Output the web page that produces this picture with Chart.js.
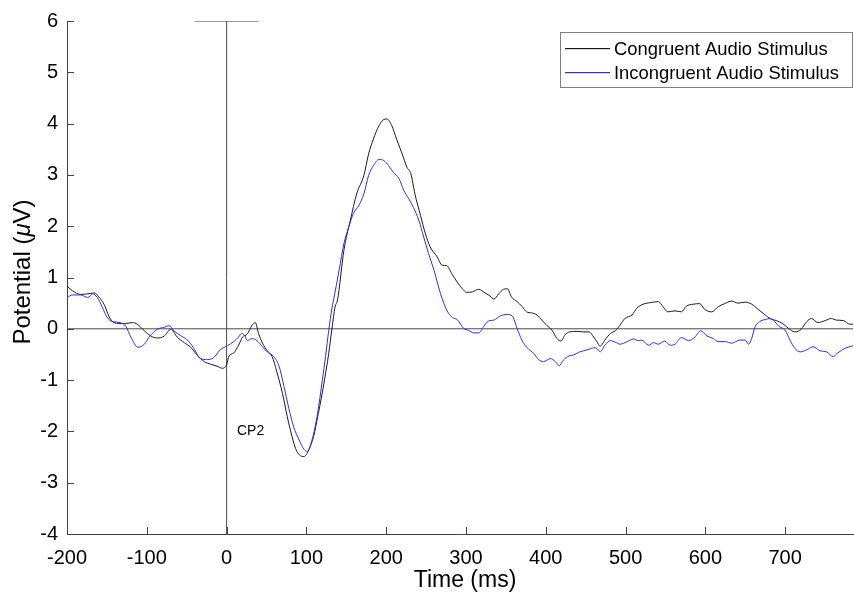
<!DOCTYPE html>
<html>
<head>
<meta charset="utf-8">
<script src="https://cdn.jsdelivr.net/npm/chart.js@4/dist/chart.umd.min.js"></script>
<style>
  html, body { margin: 0; padding: 0; background: #fff; }
  #wrap { width: 854px; height: 600px; }
</style>
</head>
<body>
<div id="wrap"><canvas id="c" width="854" height="600"></canvas></div>
<script>
// ---- Data (time in ms, potential in µV) ----
const congruentTime = [-200,-193,-183,-170,-166,-160,-153,-147,-141,-129,-118,-112,-103,-95,-87,-78,-70,-62,-53,-45,-37,-28,-20,-12,-5,0,3,9,15,20,26,32,36,40,45,51,57,63,70,76,82,88,97,103,109,115,122,128,132,136,139,147,155,163,172,178,184,190,197,201,207,213,220,226,231,236,243,249,255,264,270,276,282,289,295,301,308,316,324,330,335,341,347,352,357,364,370,376,382,389,395,401,408,414,419,424,430,439,447,454,460,464,468,474,481,487,493,499,508,514,522,531,541,547,553,562,570,576,585,593,599,608,616,624,633,641,650,658,666,675,681,689,697,704,712,720,727,733,741,750,758,764,773,781,785];
const congruentPotential = [0.83,0.74,0.67,0.69,0.70,0.62,0.46,0.23,0.12,0.10,0.12,0.09,-0.04,-0.14,-0.18,-0.14,-0.01,-0.16,-0.27,-0.36,-0.51,-0.64,-0.69,-0.73,-0.77,-0.70,-0.53,-0.47,-0.32,-0.16,-0.10,0.07,0.12,-0.09,-0.28,-0.43,-0.54,-0.84,-1.26,-1.71,-2.10,-2.39,-2.49,-2.36,-2.10,-1.65,-1.06,-0.48,0.00,0.43,0.56,1.53,2.11,2.63,2.99,3.41,3.70,3.93,4.08,4.09,3.96,3.70,3.41,3.15,3.02,2.63,2.21,1.86,1.60,1.40,1.24,1.23,1.08,0.91,0.79,0.71,0.72,0.77,0.70,0.64,0.58,0.68,0.77,0.78,0.62,0.53,0.44,0.33,0.31,0.27,0.17,0.07,-0.03,-0.19,-0.24,-0.12,-0.06,-0.05,-0.06,-0.06,-0.16,-0.25,-0.34,-0.22,-0.09,-0.04,0.07,0.20,0.27,0.40,0.48,0.51,0.53,0.43,0.33,0.35,0.33,0.44,0.48,0.49,0.38,0.33,0.43,0.49,0.54,0.50,0.52,0.48,0.38,0.27,0.20,0.16,0.10,0.01,-0.06,-0.01,0.14,0.20,0.12,0.16,0.20,0.17,0.16,0.09,0.09];

const incongruentTime = [-200,-193,-183,-174,-168,-162,-156,-150,-143,-133,-126,-120,-111,-103,-97,-87,-78,-72,-66,-58,-49,-41,-33,-24,-16,-8,1,9,15,19,23,26,32,38,45,51,59,66,72,78,84,91,97,101,107,114,120,124,128,132,134,141,147,153,159,166,172,178,184,191,197,203,209,216,222,228,234,241,247,253,260,268,276,283,289,297,303,310,316,322,328,335,343,351,358,364,370,376,385,391,397,406,412,417,422,429,435,441,447,454,460,464,468,474,481,487,493,502,510,516,520,529,535,541,549,556,562,570,579,587,594,602,610,616,625,633,643,650,654,658,662,668,675,681,685,692,700,706,712,719,727,735,744,752,760,766,775,783,785];
const incongruentPotential = [0.61,0.66,0.66,0.61,0.68,0.61,0.43,0.23,0.14,0.12,0.04,-0.16,-0.36,-0.30,-0.16,-0.01,0.03,0.06,-0.04,-0.13,-0.22,-0.38,-0.58,-0.60,-0.56,-0.41,-0.33,-0.25,-0.16,-0.09,-0.14,-0.23,-0.19,-0.23,-0.35,-0.45,-0.54,-0.74,-1.13,-1.55,-1.91,-2.17,-2.35,-2.39,-2.17,-1.65,-1.00,-0.54,-0.03,0.40,0.56,1.14,1.66,1.98,2.25,2.41,2.63,2.99,3.18,3.30,3.28,3.18,3.05,2.93,2.70,2.54,2.37,2.11,1.79,1.47,1.14,0.69,0.36,0.22,0.18,0.01,-0.03,-0.08,-0.08,0.04,0.15,0.17,0.25,0.28,0.25,0.01,-0.22,-0.36,-0.48,-0.60,-0.64,-0.58,-0.64,-0.72,-0.61,-0.53,-0.51,-0.46,-0.43,-0.40,-0.37,-0.38,-0.45,-0.32,-0.23,-0.26,-0.30,-0.25,-0.20,-0.23,-0.22,-0.32,-0.27,-0.30,-0.24,-0.32,-0.30,-0.17,-0.23,-0.16,-0.04,-0.14,-0.19,-0.25,-0.25,-0.28,-0.22,-0.22,-0.30,-0.19,0.03,0.14,0.18,0.20,0.17,0.05,-0.03,-0.22,-0.38,-0.45,-0.41,-0.35,-0.43,-0.45,-0.54,-0.47,-0.38,-0.34,-0.33];

const seriesLabels = ['Congruent Audio Stimulus', 'Incongruent Audio Stimulus'];
const seriesColors = ['#1a1a1a', '#2a2aff'];
const xRange = [-200, 785];
const yRange = [-4, 6];
const zeroLineTime = [-200, 785];
const stimulusLinePotential = [-4, 6];
const stimulusBarTime = [-40, 40];
const channelLabel = 'CP2';
const channelLabelAt = [13, -2.0];

const FONT = '"Liberation Sans", Arial, Helvetica, sans-serif';
const toPts = (xs, ys) => xs.map((x, i) => ({ x, y: ys[i] }));

const overlay = {
  id: 'overlay',
  afterDraw(chart) {
    const ctx = chart.ctx;
    const xs = chart.scales.x, ys = chart.scales.y;
    const a = chart.chartArea;
    ctx.save();
    // inward tick marks
    ctx.strokeStyle = '#404040';
    ctx.lineWidth = 1;
    ctx.beginPath();
    ys.ticks.forEach(t => {
      const p = Math.round(ys.getPixelForValue(t.value)) + 0.5;
      ctx.moveTo(a.left, p); ctx.lineTo(a.left + 7, p);
    });
    xs.ticks.forEach(t => {
      const p = Math.round(xs.getPixelForValue(t.value)) + 0.5;
      ctx.moveTo(p, a.bottom); ctx.lineTo(p, a.bottom - 7);
    });
    ctx.stroke();

    // channel label
    ctx.fillStyle = '#000';
    ctx.font = '14px ' + FONT;
    ctx.textAlign = 'left';
    ctx.textBaseline = 'middle';
    ctx.fillText(channelLabel, xs.getPixelForValue(channelLabelAt[0]), ys.getPixelForValue(channelLabelAt[1]));

    // x title
    ctx.font = '23px ' + FONT;
    ctx.textAlign = 'center';
    ctx.textBaseline = 'middle';
    ctx.fillText('Time (ms)', 465, 581);

    // y title with italic mu
    ctx.save();
    ctx.translate(23, 272);
    ctx.rotate(-Math.PI / 2);
    ctx.textBaseline = 'middle';
    const parts = [['Potential (', ''], ['\u03BC', 'italic '], ['V)', '']];
    let total = 0;
    parts.forEach(p => { ctx.font = p[1] + '24px ' + FONT; total += ctx.measureText(p[0]).width; });
    let cx = -total / 2;
    ctx.textAlign = 'left';
    parts.forEach(p => {
      ctx.font = p[1] + '24px ' + FONT;
      ctx.fillText(p[0], cx, 0);
      cx += ctx.measureText(p[0]).width;
    });
    ctx.restore();

    // legend box
    const bx = 560.5, by = 32.5, bw = 292, bh = 55;
    ctx.fillStyle = '#fff';
    ctx.fillRect(bx, by, bw, bh);
    ctx.strokeStyle = '#808080';
    ctx.lineWidth = 1;
    ctx.strokeRect(bx, by, bw, bh);
    const rowsY = [48, 72];
    ctx.font = '18.4px ' + FONT;
    ctx.textAlign = 'left';
    ctx.textBaseline = 'middle';
    seriesLabels.forEach((lab, i) => {
      ctx.fillStyle = seriesColors[i];
      ctx.fillRect(565, rowsY[i], 45, 1.2);
      ctx.fillStyle = '#000';
      ctx.fillText(lab, 614, rowsY[i] + 1.5);
    });
    ctx.restore();
  }
};

new Chart(document.getElementById('c'), {
  type: 'line',
  data: {
    datasets: [
      { label: seriesLabels[1], data: toPts(incongruentTime, incongruentPotential), borderColor: seriesColors[1], borderWidth: 1, pointRadius: 0, fill: false, cubicInterpolationMode: 'monotone', order: 1 },
      { label: seriesLabels[0], data: toPts(congruentTime, congruentPotential), borderColor: seriesColors[0], borderWidth: 1, pointRadius: 0, fill: false, cubicInterpolationMode: 'monotone', order: 2 },
      { label: 'zero', data: toPts(zeroLineTime, [0, 0]), borderColor: '#4a4a4a', borderWidth: 1, pointRadius: 0, fill: false, order: 3 },
      { label: 'stimulus', data: toPts([0, 0], stimulusLinePotential), borderColor: '#4a4a4a', borderWidth: 1, pointRadius: 0, fill: false, order: 4 },
      { label: 'stimulusBar', data: toPts(stimulusBarTime, [6, 6]), borderColor: '#333333', borderWidth: 1, pointRadius: 0, fill: false, order: 5 }
    ]
  },
  options: {
    responsive: false,
    animation: false,
    devicePixelRatio: 1,
    layout: { padding: { top: 20, right: 1, left: 0, bottom: 0 } },
    plugins: { legend: { display: false }, tooltip: { enabled: false } },
    scales: {
      x: {
        type: 'linear', min: xRange[0], max: xRange[1],
        ticks: { stepSize: 100, includeBounds: false, autoSkip: false, maxRotation: 0, color: '#000', padding: 12, font: { size: 20, family: FONT } },
        grid: { display: false, drawTicks: false },
        border: { display: true, color: '#404040', width: 1 },
        afterFit(s) { s.height = 66; }
      },
      y: {
        type: 'linear', min: yRange[0], max: yRange[1],
        ticks: { stepSize: 1, autoSkip: false, color: '#000', padding: 9, font: { size: 20, family: FONT } },
        grid: { display: false, drawTicks: false },
        border: { display: true, color: '#404040', width: 1 },
        afterFit(s) { s.width = 67; }
      }
    }
  },
  plugins: [overlay]
});
</script>
</body>
</html>
